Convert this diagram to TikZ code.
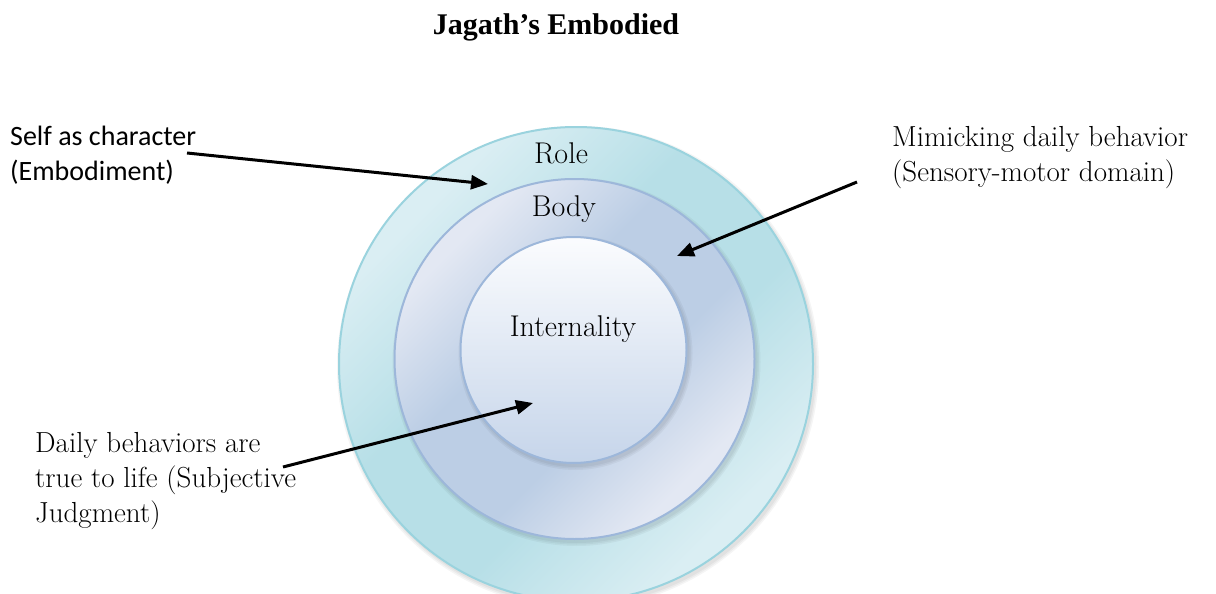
\documentclass[tikz,border=0pt]{standalone}
\usepackage{fontspec}
\newfontfamily\calibfont{Carlito}
\newfontfamily\titlefont{Liberation Serif}
\usetikzlibrary{arrows.meta}
\definecolor{roleBorder}{HTML}{9AD3DE}
\definecolor{roleLight}{HTML}{DAEEF3}
\definecolor{roleDark}{HTML}{B7DFE7}
\definecolor{bodyBorder}{HTML}{9DB7DA}
\definecolor{bodyLight}{HTML}{E3E8F3}
\definecolor{bodyDark}{HTML}{BCCEE5}
\definecolor{innerTop}{HTML}{FBFCFE}
\definecolor{innerBottom}{HTML}{C6D5EA}
\pgfdeclareverticalshading{roleshading}{100bp}{color(0bp)=(roleLight); color(27bp)=(roleLight); color(42bp)=(roleDark); color(58bp)=(roleDark); color(73bp)=(roleLight); color(100bp)=(roleLight)}
\pgfdeclareverticalshading{bodyshading}{100bp}{color(0bp)=(bodyLight); color(27bp)=(bodyLight); color(42bp)=(bodyDark); color(58bp)=(bodyDark); color(73bp)=(bodyLight); color(100bp)=(bodyLight)}
\tikzset{
  ring/.style={circle, inner sep=0pt, line width=2pt},
  rolering/.style={ring, draw=roleBorder, shading=roleshading, shading angle=45},
  bodyring/.style={ring, draw=bodyBorder, shading=bodyshading, shading angle=45},
  innerring/.style={ring, draw=bodyBorder, top color=innerTop, bottom color=innerBottom},
  shade/.style={circle, inner sep=0pt, fill=black, opacity=0.04},
  serif/.style={font=\fontsize{29}{35}\selectfont, inner sep=0pt},
  ringtxt/.style={font=\fontsize{30}{36}\selectfont, inner sep=0pt, anchor=base},
  lbl/.style={serif, align=left},
  sanslbl/.style={font=\calibfont\fontsize{28}{35}\selectfont, inner sep=0pt, align=left},
  arr/.style={line width=3pt, -{Triangle[length=17pt,width=14pt]}},
}
\begin{document}
\begin{tikzpicture}[x=1pt,y=-1pt]
\path[use as bounding box, fill=white] (0,0) rectangle (1216,594);
\clip (0,0) rectangle (1216,594);

% title
\node[font=\titlefont\bfseries\fontsize{30}{36}\selectfont, anchor=base, inner sep=0pt] (title) at (556,35) {Jagath’s Embodied};

% rings
\foreach \d in {2,5,8} {
  \node[shade, minimum size={474pt+\d pt}] at (578,367) {};
}
\node[rolering, minimum size=474pt] (role) at (576,364) {};
\foreach \d in {2,5,8} {
  \node[shade, minimum size={360pt+\d pt}] at (576.5,362) {};
}
\node[bodyring, minimum size=360pt] (body) at (574.5,359) {};
\foreach \d in {2,5,8} {
  \node[shade, minimum size={226pt+\d pt}] at (575.5,353) {};
}
\node[innerring, minimum size=226pt] (inner) at (573.5,350) {};

% ring texts
\node[ringtxt] (roletxt) at (561,163) {Role};
\node[ringtxt] (bodytxt) at (564,216) {Body};
\node[ringtxt] (innertxt) at (573,336) {Internality};

% labels
\node[sanslbl, anchor=west] (selflbl) at (10,155) {Self as character\\(Embodiment)};
\node[lbl, anchor=west] (mimiclbl) at (892,158) {Mimicking daily behavior\\(Sensory-motor domain)};
\node[lbl, anchor=west] (dailylbl) at (35,481) {Daily behaviors are\\true to life (Subjective\\Judgment)};

% arrow ends
\coordinate (selfstart) at (187,153);
\coordinate (selftip) at (488,184);
\coordinate (mimicstart) at (857,182);
\coordinate (mimictip) at (677,256);
\coordinate (dailystart) at (283,467);
\coordinate (dailytip) at (533,403);

\draw[arr] (selfstart) -- (selftip);
\draw[arr] (mimicstart) -- (mimictip);
\draw[arr] (dailystart) -- (dailytip);
\end{tikzpicture}
\end{document}
